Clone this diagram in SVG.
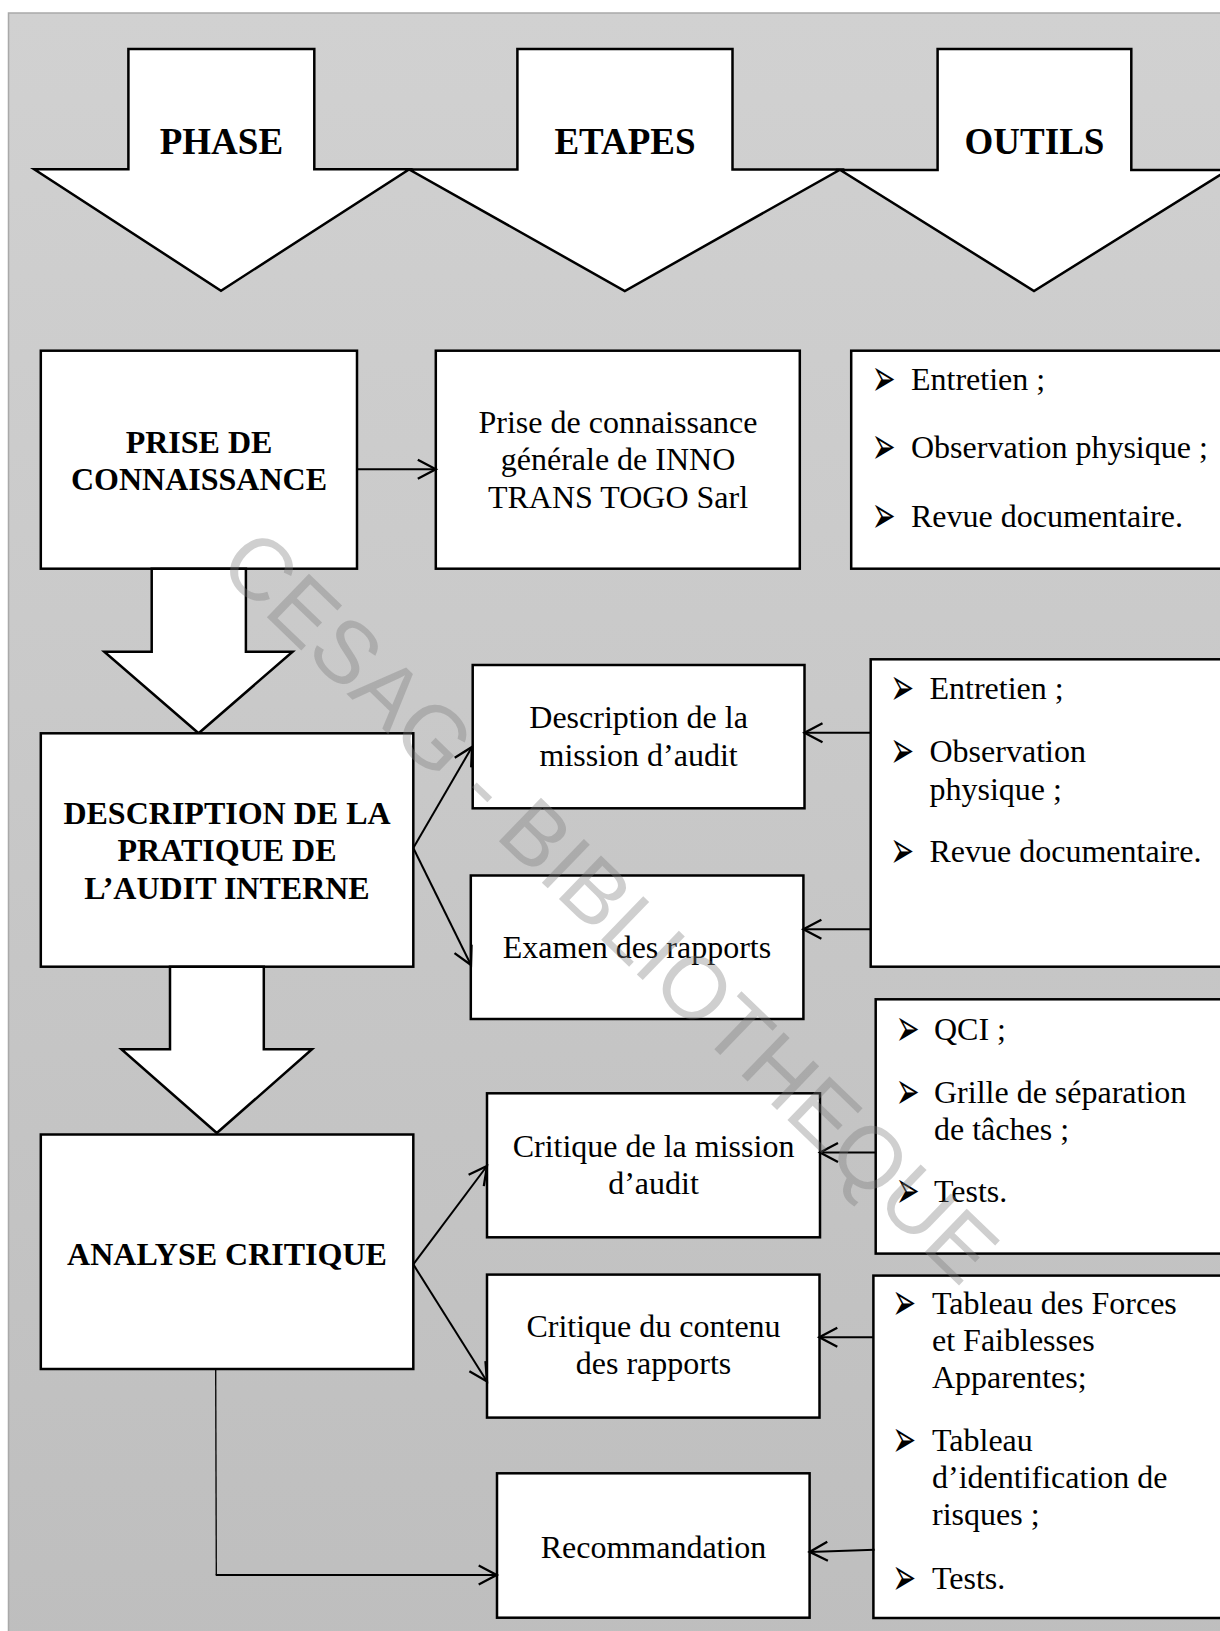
<svg xmlns="http://www.w3.org/2000/svg" width="1220" height="1631" viewBox="0 0 1220 1631">
<defs>
<linearGradient id="bg" x1="0" y1="0" x2="0" y2="1">
<stop offset="0" stop-color="#d1d1d1"/>
<stop offset="1" stop-color="#bebebe"/>
</linearGradient>
<marker id="open" viewBox="-22 -12 26 24" markerWidth="26" markerHeight="24" refX="0" refY="0" orient="auto" markerUnits="userSpaceOnUse">
<path d="M-18,-9.5 L0,0 L-18,9.5" fill="none" stroke="#000" stroke-width="2.3"/>
</marker>
<style>
.box{fill:#fff;stroke:#000;stroke-width:2.5}
.blk{fill:#fff;stroke:#000;stroke-width:2.5;stroke-linejoin:miter}
.hdr{font-family:"Liberation Serif","Times New Roman",serif;font-size:37px;font-weight:bold;text-anchor:middle;fill:#000}
.bt{font-family:"Liberation Serif","Times New Roman",serif;font-size:32px;font-weight:bold;text-anchor:middle;fill:#000}
.t{font-family:"Liberation Serif","Times New Roman",serif;font-size:32px;text-anchor:middle;fill:#000}
.tl{font-family:"Liberation Serif","Times New Roman",serif;font-size:32px;fill:#000}
.bul{font-family:"DejaVu Sans",sans-serif;font-size:36px;fill:#000}
.con{fill:none;stroke:#000;stroke-width:2;marker-end:url(#open)}
.thin{fill:none;stroke:#000;stroke-width:1.3}
.wm{font-family:"Liberation Sans",Arial,sans-serif;font-size:88px;fill:#7a7a7a;fill-opacity:0.36}
</style>
</defs>

<rect x="8.5" y="13" width="1230" height="1640" fill="url(#bg)" stroke="#a9a9a9" stroke-width="1.5"/>

<g id="hdr-phase">
<polygon class="blk" points="128.4,49 314.3,49 314.3,169.3 409.3,169.3 221,290.7 34.2,169.3 128.4,169.3"/>
<text class="hdr" x="221.4" y="154">PHASE</text>
</g>
<g id="hdr-etapes">
<polygon class="blk" points="517.4,49 732.5,49 732.5,169.5 840.3,169.5 624.8,291 409.3,169.5 517.4,169.5"/>
<text class="hdr" x="625" y="154">ETAPES</text>
</g>
<g id="hdr-outils">
<polygon class="blk" points="937.6,49 1131.3,49 1131.3,170 1228,170 1034,291 840.3,170 937.6,170"/>
<text class="hdr" x="1034.5" y="154">OUTILS</text>
</g>

<g id="phase-prise">
<rect class="box" x="40.8" y="350.7" width="316.2" height="218"/>
<text class="bt" x="199" y="453.3">PRISE DE</text>
<text class="bt" x="199" y="490">CONNAISSANCE</text>
</g>
<g id="arrow-a">
<polygon class="blk" points="151.7,568.7 245.9,568.7 245.9,651.7 292.6,651.7 198.6,733.3 104.3,651.7 151.7,651.7"/>
</g>
<g id="phase-description">
<rect class="box" x="40.8" y="733.3" width="372.5" height="233.4"/>
<text class="bt" x="227" y="824">DESCRIPTION DE LA</text>
<text class="bt" x="227" y="861">PRATIQUE DE</text>
<text class="bt" x="227" y="899">L’AUDIT INTERNE</text>
</g>
<g id="arrow-b">
<polygon class="blk" points="170,966.7 263.8,966.7 263.8,1049.3 312,1049.3 216.8,1133 121.4,1049.3 170,1049.3"/>
</g>
<g id="phase-analyse">
<rect class="box" x="40.8" y="1134.5" width="372.5" height="234.5"/>
<text class="bt" x="227" y="1265">ANALYSE CRITIQUE</text>
</g>

<g id="etape-prise">
<rect class="box" x="435.8" y="350.7" width="364" height="218"/>
<text class="t" x="618" y="433">Prise de connaissance</text>
<text class="t" x="618" y="470">générale de INNO</text>
<text class="t" x="618" y="508">TRANS TOGO Sarl</text>
</g>
<g id="etape-desc-mission">
<rect class="box" x="472.7" y="665" width="331.8" height="143.3"/>
<text class="t" x="638.6" y="728.3">Description de la</text>
<text class="t" x="638.6" y="766">mission d’audit</text>
</g>
<g id="etape-examen">
<rect class="box" x="470.8" y="875.5" width="332.6" height="143.5"/>
<text class="t" x="637" y="958">Examen des rapports</text>
</g>
<g id="etape-critique-mission">
<rect class="box" x="487" y="1093.3" width="333" height="144"/>
<text class="t" x="653.5" y="1157">Critique de la mission</text>
<text class="t" x="653.5" y="1194">d’audit</text>
</g>
<g id="etape-critique-contenu">
<rect class="box" x="487" y="1274.6" width="332.5" height="143"/>
<text class="t" x="653.5" y="1337">Critique du contenu</text>
<text class="t" x="653.5" y="1374">des rapports</text>
</g>
<g id="etape-recommandation">
<rect class="box" x="497" y="1473.3" width="312.6" height="144.4"/>
<text class="t" x="653.5" y="1558">Recommandation</text>
</g>

<g id="outils-1">
<rect class="box" x="851.2" y="350.7" width="380" height="218"/>
<text class="bul" transform="translate(871.8,396) scale(0.79,1.47)">➢</text><text class="tl" x="911" y="390">Entretien ;</text>
<text class="bul" transform="translate(871.8,464) scale(0.79,1.47)">➢</text><text class="tl" x="911" y="458">Observation physique ;</text>
<text class="bul" transform="translate(871.8,533) scale(0.79,1.47)">➢</text><text class="tl" x="911" y="527">Revue documentaire.</text>
</g>
<g id="outils-2">
<rect class="box" x="870.7" y="659.3" width="360" height="307.4"/>
<text class="bul" transform="translate(890.3,704.5) scale(0.79,1.47)">➢</text><text class="tl" x="929.5" y="698.5">Entretien ;</text>
<text class="bul" transform="translate(890.3,768) scale(0.79,1.47)">➢</text><text class="tl" x="929.5" y="762">Observation</text>
<text class="tl" x="929.5" y="800">physique ;</text>
<text class="bul" transform="translate(890.3,868) scale(0.79,1.47)">➢</text><text class="tl" x="929.5" y="862">Revue documentaire.</text>
</g>
<g id="outils-3">
<rect class="box" x="875.7" y="999.3" width="360" height="254.3"/>
<text class="bul" transform="translate(895.8,1046) scale(0.79,1.47)">➢</text><text class="tl" x="934" y="1040">QCI ;</text>
<text class="bul" transform="translate(895.8,1108.5) scale(0.79,1.47)">➢</text><text class="tl" x="934" y="1102.5">Grille de séparation</text>
<text class="tl" x="934" y="1139.5">de tâches ;</text>
<text class="bul" transform="translate(895.8,1207.5) scale(0.79,1.47)">➢</text><text class="tl" x="934" y="1201.5">Tests.</text>
</g>
<g id="outils-4">
<rect class="box" x="873.4" y="1275.6" width="360" height="342.4"/>
<text class="bul" transform="translate(892.3,1319.6) scale(0.79,1.47)">➢</text><text class="tl" x="932" y="1313.6">Tableau des Forces</text>
<text class="tl" x="932" y="1351">et Faiblesses</text>
<text class="tl" x="932" y="1388">Apparentes;</text>
<text class="bul" transform="translate(892.3,1457) scale(0.79,1.47)">➢</text><text class="tl" x="932" y="1451">Tableau</text>
<text class="tl" x="932" y="1487.5">d’identification de</text>
<text class="tl" x="932" y="1525.4">risques ;</text>
<text class="bul" transform="translate(892.3,1594.8) scale(0.79,1.47)">➢</text><text class="tl" x="932" y="1588.8">Tests.</text>
</g>

<g id="connectors">
<line class="con" x1="357" y1="469.3" x2="435.8" y2="469.3"/>
<line class="con" x1="413.3" y1="848" x2="472" y2="747"/>
<line class="con" x1="413.3" y1="848" x2="471" y2="965"/>
<line class="con" x1="870.7" y1="732.7" x2="804.5" y2="732.7"/>
<line class="con" x1="870.7" y1="929.3" x2="803.4" y2="929.3"/>
<line class="con" x1="413.3" y1="1264.4" x2="487" y2="1166"/>
<line class="con" x1="413.3" y1="1264.4" x2="487" y2="1381.5"/>
<line class="con" x1="875.7" y1="1152.5" x2="820" y2="1152.5"/>
<line class="con" x1="873.4" y1="1337.3" x2="819.3" y2="1337.3"/>
<line class="con" x1="874.6" y1="1549.8" x2="809.6" y2="1551.9"/>
<line class="thin" x1="215.7" y1="1369" x2="216.3" y2="1575"/>
<line class="con" x1="215.7" y1="1575" x2="496.7" y2="1575"/>
</g>

<text class="wm" transform="translate(216,568) rotate(44)">CESAG - BIBLIOTHEQUE</text>
</svg>
